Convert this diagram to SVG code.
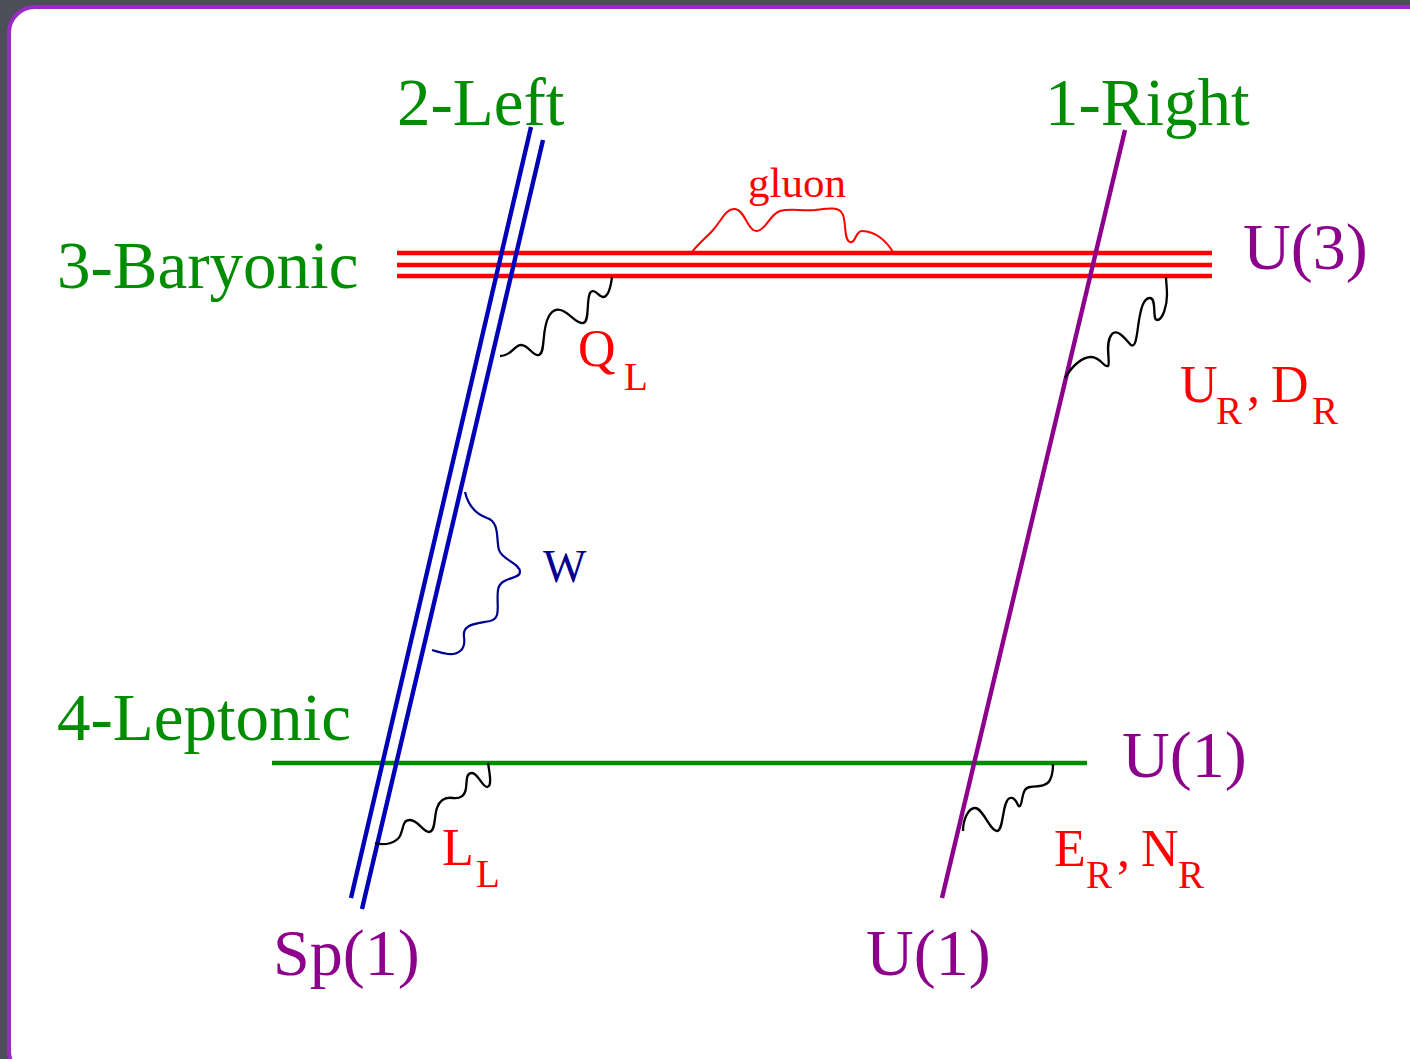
<svg xmlns="http://www.w3.org/2000/svg" width="1410" height="1059" viewBox="0 0 1410 1059">
<style>
text{font-family:"Liberation Serif","Times New Roman",serif}
.g{fill:#008c00;font-size:67px}
.p{fill:#8c008c;font-size:66px}
.r{fill:#ff0000;font-size:52px}
.rs{fill:#ff0000;font-size:39px}
.wave{fill:none;stroke:#000;stroke-width:2.3}
</style>
<rect x="0" y="0" width="1410" height="1059" fill="#4c4f58"/>
<rect x="9" y="7" width="1430" height="1070" rx="26" fill="#fff" stroke="#9a2cc6" stroke-width="4"/>

<g id="connectors">
  <g id="baryonic-lines" stroke="#ff0000" stroke-width="4.6">
    <line x1="397" y1="253" x2="1212" y2="253"/>
    <line x1="397" y1="265" x2="1212" y2="265"/>
    <line x1="397" y1="276" x2="1212" y2="276"/>
  </g>
  <line id="leptonic-line" x1="272" y1="763" x2="1087" y2="763" stroke="#008c00" stroke-width="4.4"/>
  <g id="left-lines" stroke="#0000b8" stroke-width="4.4">
    <line x1="531" y1="127" x2="351" y2="898"/>
    <line x1="543" y1="140" x2="362" y2="909"/>
  </g>
  <line id="right-line" x1="1125" y1="130" x2="942" y2="898" stroke="#8c008c" stroke-width="4.4"/>
  <path id="gluon" fill="none" stroke="#ff0000" stroke-width="2" d="M692,252 C700,242 708,236 713,230 C722,220 726,208 735,209 C745,210 748,232 757,231 C766,230 770,214 780,211 C790,208 800,211 815,210 C825,209 838,206 842,213 C847,220 843,240 850,242 C856,244 855,231 862,231 C876,231 887,242 893,252"/>
  <path id="wave-QL" class="wave" d="M500,356 C512,356 514,345 521,345 C529,345 533,357 539,355 C546,352 541,330 549,316 C553,309 559,308 565,312 C572,316 577,324 583,323 C590,322 586,301 590,293 C594,287 599,297 603,297 C609,297 611,285 612,277"/>
  <path id="wave-UR" class="wave" d="M1065,378 C1072,366 1082,357 1091,357 C1101,357 1104,368 1108,366 C1111,363 1104,343 1112,334 C1118,328 1126,340 1131,345 C1137,349 1137,328 1140,315 C1142,304 1145,298 1150,298 C1157,298 1152,320 1157,320 C1163,320 1167,305 1167,295 C1167,287 1166,281 1166,277"/>
  <path id="wave-LL" class="wave" d="M375,843 C385,846 396,843 400,836 C404,828 402,820 410,820 C418,820 423,832 429,832 C436,832 434,815 437,808 C440,799 446,797 453,798 C460,799 465,796 466,788 C467,780 466,773 472,773 C478,773 482,787 487,787 C492,787 490,775 488,763"/>
  <path id="wave-ER" class="wave" d="M963,831 C963,820 968,808 975,808 C983,808 990,831 997,831 C1004,831 1002,800 1010,798 C1017,796 1017,808 1020,806 C1023,803 1021,788 1030,787 C1040,786 1047,786 1050,780 C1053,774 1053,769 1053,764"/>
  <path id="wave-W" fill="none" stroke="#000090" stroke-width="2.2" d="M465,492 C468,505 476,514 487,518 C500,522 496,540 499,550 C502,560 520,563 520,572 C520,580 500,576 498,590 C496,605 502,618 490,621 C475,624 462,624 464,637 C466,650 458,655 448,654 C440,653 436,651 432,650"/>
</g>

<g id="label-2-left"><text class="g" x="397" y="125">2-Left</text></g>
<g id="label-1-right"><text class="g" x="1045" y="125">1-Right</text></g>
<g id="label-3-baryonic"><text class="g" x="57" y="288">3-Baryonic</text></g>
<g id="label-4-leptonic"><text class="g" x="57" y="740">4-Leptonic</text></g>
<g id="label-U3"><text class="p" x="1243" y="269">U(3)</text></g>
<g id="label-U1-right"><text class="p" x="1122" y="777">U(1)</text></g>
<g id="label-Sp1"><text class="p" x="273" y="975">Sp(1)</text></g>
<g id="label-U1-bottom"><text class="p" x="866" y="975">U(1)</text></g>
<g id="label-gluon"><text x="748" y="197" fill="#ff0000" font-size="43">gluon</text></g>
<g id="label-W"><text x="543" y="582" fill="#000090" font-size="46">W</text></g>
<g id="label-QL"><text class="r" x="578" y="366">Q</text><text class="rs" x="624" y="390">L</text></g>
<g id="label-URDR"><text class="r" x="1180" y="402" font-size="50">U</text><text class="rs" x="1216" y="424">R</text><text class="r" x="1247" y="402">,</text><text class="r" x="1271" y="402">D</text><text class="rs" x="1312" y="424">R</text></g>
<g id="label-LL"><text class="r" x="442" y="865">L</text><text class="rs" x="476" y="887">L</text></g>
<g id="label-ERNR"><text class="r" x="1054" y="866">E</text><text class="rs" x="1086" y="888">R</text><text class="r" x="1117" y="866">,</text><text class="r" x="1141" y="866">N</text><text class="rs" x="1178" y="888">R</text></g>
</svg>
